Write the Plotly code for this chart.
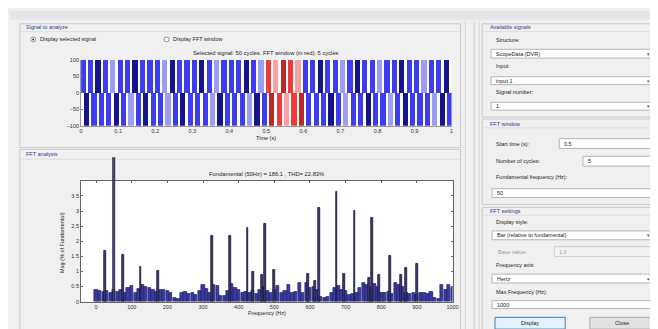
import plotly.graph_objects as go

# ---------------- data ----------------
f0 = 50
fft_start = 0.5
fft_cycles = 5

cycle_start = [0.00, 0.02, 0.04, 0.06, 0.08, 0.10, 0.12, 0.14, 0.16, 0.18,
               0.20, 0.22, 0.24, 0.26, 0.28, 0.30, 0.32, 0.34, 0.36, 0.38,
               0.40, 0.42, 0.44, 0.46, 0.48, 0.50, 0.52, 0.54, 0.56, 0.58,
               0.60, 0.62, 0.64, 0.66, 0.68, 0.70, 0.72, 0.74, 0.76, 0.78,
               0.80, 0.82, 0.84, 0.86, 0.88, 0.90, 0.92, 0.94, 0.96, 0.98]
pos_peak = [100] * 50
neg_peak = [-100] * 50
upper_shade = [1, 1, 0, 1, 2, 1, 1, 0, 1, 1, 1, 2, 0, 1, 1, 1, 0, 1, 2, 1, 1, 1, 0, 1, 2,
               1, 2, 0, 1, 2, 1, 1, 0, 1, 1, 2, 1, 0, 1, 1, 2, 1, 1, 0, 1, 1, 2, 1, 1, 0]
lower_shade = [0, 1, 1, 1, 0, 1, 2, 1, 0, 1, 1, 2, 1, 0, 1, 1, 1, 2, 0, 1, 1, 1, 2, 0, 1,
               0, 1, 2, 1, 0, 1, 1, 1, 0, 1, 2, 1, 1, 0, 1, 1, 2, 1, 0, 1, 1, 1, 2, 0, 1]
time_ticks = [0, 0.1, 0.2, 0.3, 0.4, 0.5, 0.6, 0.7, 0.8, 0.9, 1]
sig_ticks = [-100, -50, 0, 50, 100]

freq_bins = list(range(0, 1001, 10))
bg_mag = [0.38, 0.36, 0.32, 0.35, 0.30, 0.40, 0.33, 0.38, 0.30, 0.45,
          0.52, 0.28, 0.42, 0.57, 0.48, 0.45, 0.40, 0.32, 0.38, 0.40,
          0.35, 0.30, 0.12, 0.10, 0.28, 0.32, 0.25, 0.30, 0.22, 0.35,
          0.56, 0.42, 0.30, 0.55, 0.52, 0.20, 0.18, 0.35, 0.58, 0.45,
          0.38, 0.30, 0.33, 0.28, 0.35, 0.25, 0.40, 0.48, 0.35, 0.30,
          0.38, 0.52, 0.30, 0.35, 0.54, 0.28, 0.32, 0.61, 0.30, 0.62,
          0.45, 0.50, 0.40, 0.15, 0.12, 0.16, 0.28, 0.45, 0.52, 0.40,
          0.35, 0.22, 0.25, 0.30, 0.45, 0.62, 0.55, 0.50, 0.60, 0.48,
          0.30, 0.28, 0.32, 0.25, 0.62, 0.55, 0.48, 0.30, 0.25, 0.30,
          0.22, 0.30, 0.28, 0.25, 0.32, 0.14, 0.10, 0.54, 0.40, 0.54, 0.45]
peak_hz = [25, 75, 125, 175, 325, 375, 425, 440, 465, 475, 500, 595, 615, 625,
           675, 695, 725, 765, 775, 795, 825, 855, 870, 900]
peak_mag = [1.69, 1.55, 1.15, 1.02, 2.17, 2.17, 2.45, 0.98, 0.87, 2.58, 1.04, 0.93, 0.68, 3.12,
            3.64, 0.93, 3.01, 0.79, 2.76, 0.87, 1.50, 0.90, 1.12, 1.26]
fund_hz = [50]
fund_mag = [100]
mag_ticks = [0, 0.5, 1, 1.5, 2, 2.5, 3, 3.5]
freq_ticks = [0, 100, 200, 300, 400, 500, 600, 700, 800, 900, 1000]

# ---------------- helpers ----------------
W, H = 658, 329
FONT = "Liberation Sans"


def px(x):
    return x / W


def py(y):
    return 1 - y / H


blue = {0: "#14148c", 1: "#3c3cf2", 2: "#9c9ef6"}
red = {0: "#b82a24", 1: "#f03a3a", 2: "#f6a2a2"}
win_end = fft_start + fft_cycles / f0 - 1e-9


def stripe_colors(shades):
    out = []
    for t, s in zip(cycle_start, shades):
        out.append(red[s] if fft_start <= t < win_end else blue[s])
    return out


fig = go.Figure()

# top signal stripes
fig.add_trace(go.Bar(x=[t + 0.3 / f0 for t in cycle_start], y=pos_peak, width=0.7 / f0,
                     marker=dict(color=stripe_colors(upper_shade), line=dict(width=0)),
                     xaxis="x", yaxis="y", showlegend=False))
fig.add_trace(go.Bar(x=[t + 0.75 / f0 for t in cycle_start], y=neg_peak, width=0.7 / f0,
                     marker=dict(color=stripe_colors(lower_shade), line=dict(width=0)),
                     xaxis="x", yaxis="y", showlegend=False))

# FFT bars
fig.add_trace(go.Bar(x=freq_bins, y=bg_mag, width=9,
                     marker=dict(color="#3a3aa6", line=dict(color="#1a1a50", width=0.6)),
                     xaxis="x2", yaxis="y2", showlegend=False))
fig.add_trace(go.Bar(x=peak_hz, y=peak_mag, width=5,
                     marker=dict(color="#3c3c70", line=dict(color="#15153a", width=0.8)),
                     xaxis="x2", yaxis="y2", showlegend=False))
fig.add_trace(go.Bar(x=fund_hz, y=fund_mag, width=6,
                     marker=dict(color="#50508a", line=dict(color="#15153a", width=0.8)),
                     xaxis="x2", yaxis="y3", showlegend=False))

top_dom_x = [px(72), px(447)]
top_dom_y = [py(117), py(50)]
bot_dom_x = [px(72), px(448)]
bot_dom_y = [py(296), py(173)]
ext_top = 149
ymax_bot = 4
ymax_ext = ymax_bot * (296 - ext_top) / (296 - 173)

tickfont = dict(family=FONT, size=5.5, color="#333333")

fig.update_layout(
    width=W, height=H,
    margin=dict(l=0, r=0, t=0, b=0),
    paper_bgcolor="#f0f0f0",
    plot_bgcolor="rgba(0,0,0,0)",
    barmode="overlay",
    bargap=0,
    xaxis=dict(domain=top_dom_x, range=[0, 1], anchor="y", tickvals=time_ticks,
               ticktext=[str(v) for v in time_ticks], tickfont=tickfont,
               showgrid=False, zeroline=False, showline=True, linecolor="#9a9a9a",
               ticks="inside", ticklen=2, tickcolor="#777"),
    yaxis=dict(domain=top_dom_y, range=[-100, 100], anchor="x", tickvals=sig_ticks,
               tickfont=tickfont, showgrid=False, zeroline=False, showline=True,
               linecolor="#9a9a9a", ticks="inside", ticklen=2, tickcolor="#777"),
    xaxis2=dict(domain=bot_dom_x, range=[-42, 1000], anchor="y2", tickvals=freq_ticks,
                tickfont=tickfont, showgrid=False, zeroline=False, showline=True,
                linecolor="#666666", mirror="ticks", ticks="inside", ticklen=2,
                tickcolor="#666"),
    yaxis2=dict(domain=bot_dom_y, range=[0, ymax_bot], anchor="x2", tickvals=mag_ticks,
                ticktext=["0", "0.5", "1", "1.5", "2", "2.5", "3", "3.5"],
                tickfont=tickfont, showgrid=False, zeroline=False, showline=True,
                linecolor="#666666", mirror="ticks", ticks="inside", ticklen=2,
                tickcolor="#666"),
    yaxis3=dict(domain=[py(296), py(ext_top)], range=[0, ymax_ext], anchor="x2",
                visible=False, showgrid=False, zeroline=False),
)

shapes = []


def rect(x0, y0, x1, y1, fill=None, line="#c9c9c9", lw=1, layer="below"):
    shapes.append(dict(type="rect", xref="paper", yref="paper",
                       x0=px(x0), x1=px(x1), y0=py(y1), y1=py(y0),
                       fillcolor=fill if fill else "rgba(0,0,0,0)",
                       line=dict(color=line, width=lw), layer=layer))


def hline(x0, x1, y, color="#cfcfcf", lw=1):
    shapes.append(dict(type="line", xref="paper", yref="paper",
                       x0=px(x0), x1=px(x1), y0=py(y), y1=py(y),
                       line=dict(color=color, width=lw), layer="below"))


def vline(x, y0, y1, color="#cfcfcf", lw=1):
    shapes.append(dict(type="line", xref="paper", yref="paper",
                       x0=px(x), x1=px(x), y0=py(y0), y1=py(y1),
                       line=dict(color=color, width=lw), layer="below"))


# top banner
rect(0, 0, 658, 9, fill="#e6e6e6", line="rgba(0,0,0,0)", lw=0)
# left panels
rect(10, 13, 456, 139)
hline(11, 455, 21, "#dddddd")
rect(10, 141, 456, 327)
hline(11, 455, 151, "#dddddd")
# dividers
vline(461, 10, 329, "#d2d2d2")
vline(470, 10, 329, "#d2d2d2")
vline(475, 10, 329, "#dadada")
# right panels
rect(478, 13, 656, 108)
hline(479, 655, 21, "#dddddd")
rect(478, 110, 656, 197)
hline(479, 655, 119, "#dddddd")
rect(478, 200, 656, 328)
hline(479, 655, 208, "#dddddd")
# plot backgrounds
rect(72, 50, 447, 117, fill="#ffffff", line="rgba(0,0,0,0)", lw=0)
rect(72, 173, 448, 296, fill="#ffffff", line="rgba(0,0,0,0)", lw=0)

# widgets: dropdowns and edit boxes
boxes = [
    (487, 39, 654, 48, "#ffffff", "#b5b5b5"),
    (487, 67, 654, 75, "#ffffff", "#b5b5b5"),
    (487, 93, 654, 101, "#ffffff", "#b5b5b5"),
    (556, 130, 652, 140, "#ffffff", "#b5b5b5"),
    (580, 148, 652, 158, "#ffffff", "#b5b5b5"),
    (488, 181, 652, 190, "#ffffff", "#b5b5b5"),
    (488, 224, 652, 233, "#ffffff", "#b5b5b5"),
    (551, 240, 652, 250, "#f2f2f2", "#cccccc"),
    (488, 268, 652, 277, "#ffffff", "#b5b5b5"),
    (488, 295, 652, 303, "#ffffff", "#b5b5b5"),
    (491, 312, 562, 324, "#e5f1fb", "#3c7fb1"),
    (587, 312, 652, 324, "#e1e1e1", "#adadad"),
]
for x0, y0, x1, y1, f, l in boxes:
    rect(x0, y0, x1, y1, fill=f, line=l, layer="above")

# radio buttons
shapes.append(dict(type="circle", xref="paper", yref="paper", x0=px(21), x1=px(26),
                   y0=py(31.5), y1=py(26.5), fillcolor="#ffffff",
                   line=dict(color="#777", width=0.8)))
shapes.append(dict(type="circle", xref="paper", yref="paper", x0=px(22.5), x1=px(24.5),
                   y0=py(30), y1=py(28), fillcolor="#333", line=dict(width=0)))
shapes.append(dict(type="circle", xref="paper", yref="paper", x0=px(156), x1=px(161),
                   y0=py(31.5), y1=py(26.5), fillcolor="#ffffff",
                   line=dict(color="#777", width=0.8)))

fig.update_layout(shapes=shapes)

ann = []


def text(x, y, s, size=5.5, color="#222222", anchor="left", angle=0):
    ann.append(dict(x=px(x), y=py(y), xref="paper", yref="paper", text=s,
                    showarrow=False, xanchor=anchor, yanchor="middle",
                    textangle=angle,
                    font=dict(family=FONT, size=size, color=color)))


title_col = "#2b3990"
text(14, 16.5, "Signal to analyze", color=title_col)
text(28, 29, "Display selected signal")
text(163, 29, "Display FFT window")
text(259.5, 43, "Selected signal: 50 cycles. FFT window (in red): 5 cycles", size=5.8, anchor="center")
text(259.5, 129, "Time (s)", anchor="center")
text(14, 146, "FFT analysis", color=title_col)
text(260, 166.5, "Fundamental (50Hz) = 186.1 , THD= 22.83%", size=5.8, anchor="center")
text(52, 236, "Mag (% of Fundamental)", anchor="center", angle=-90)
text(260, 308, "Frequency (Hz)", anchor="center")

text(484, 16.5, "Available signals", color=title_col)
text(490, 30, "Structure:")
text(490, 43.5, "ScopeData (DVR)")
text(490, 56, "Input:")
text(490, 71, "input 1")
text(490, 82, "Signal number:")
text(490, 97, "1")
text(484, 115, "FFT window", color=title_col)
text(490, 135, "Start time (s):")
text(559, 135, "0.5")
text(490, 153, "Number of cycles:")
text(583, 153, "5")
text(490, 169, "Fundamental frequency (Hz):")
text(491, 185.5, "50")
text(484, 204, "FFT settings", color=title_col)
text(490, 215, "Display style:")
text(491, 228.5, "Bar (relative to fundamental)")
text(492, 245, "Base value:", color="#9a9a9a")
text(554, 245, "1.0", color="#9a9a9a")
text(490, 259, "Frequency axis:")
text(491, 272.5, "Hertz")
text(490, 286, "Max Frequency (Hz):")
text(491, 299, "1000")
text(526.5, 318, "Display", anchor="center")
text(619.5, 318, "Close", anchor="center")
for yy in (43.5, 71, 97, 228.5, 272.5):
    text(650, yy, "▾", size=5, color="#555555", anchor="right")

fig.update_layout(annotations=ann)

fig.write_html("out.html")
